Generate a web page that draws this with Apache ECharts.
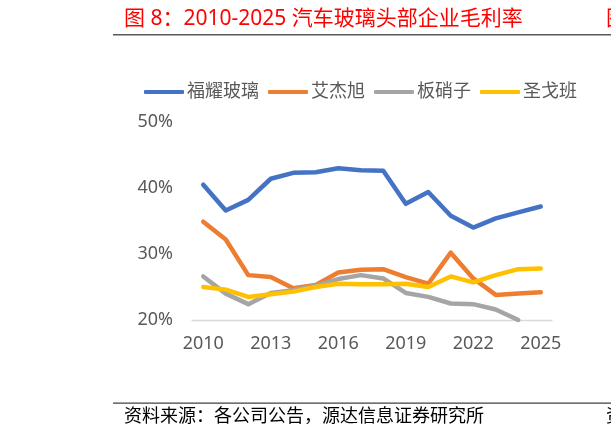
<!DOCTYPE html>
<html>
<head>
<meta charset="utf-8">
<script src="https://cdn.jsdelivr.net/npm/echarts@6/dist/echarts.min.js"></script>
<style>
html,body{margin:0;padding:0;background:#fff;}
#c{width:611px;height:438px;}
</style>
</head>
<body>
<div id="c"></div>
<script>
var years = ['2010','2011','2012','2013','2014','2015','2016','2017','2018','2019','2020','2021','2022','2023','2024','2025'];
var fuyao = [40.5,36.6,38.2,41.4,42.3,42.4,43.0,42.7,42.6,37.6,39.4,35.8,34.0,35.4,36.3,37.2];
var aijiexu = [34.9,32.2,26.8,26.5,24.8,25.3,27.2,27.6,27.7,26.5,25.5,30.2,26.3,23.8,24.0,24.2];
var banxiaozi = [26.6,24.0,22.4,24.1,24.5,25.2,26.2,26.8,26.3,24.1,23.5,22.5,22.4,21.6,20.0,null];
var shengeban = [25.0,24.6,23.5,23.9,24.3,25.0,25.5,25.4,25.4,25.5,25.0,26.6,25.7,26.8,27.7,27.8];
var seriesNames = ['福耀玻璃','艾杰旭','板硝子','圣戈班'];
var colors = ['#4472C4','#ED7D31','#A5A5A5','#FFC000'];
var titleText = '图 8：2010-2025 汽车玻璃头部企业毛利率';
var sourceText = '资料来源：各公司公告，源达信息证券研究所';

var font = '"Noto Sans","Noto Sans CJK SC",sans-serif';
var chart = echarts.init(document.getElementById('c'), null, {renderer:'canvas'});
var datas = [fuyao, aijiexu, banxiaozi, shengeban];
var series = seriesNames.map(function(n,i){
  return {
    name:n, type:'line', data:datas[i], symbol:'none', smooth:false,
    lineStyle:{color:colors[i], width:4.5, cap:'round', join:'round'},
    itemStyle:{color:colors[i]},
    connectNulls:false
  };
});
chart.setOption({
  animation:false,
  textStyle:{fontFamily:font},
  legend:{
    data:seriesNames.map(function(n,i){return {name:n, icon:'roundRect', itemStyle:{color:colors[i]}};}),
    left:139, top:78, itemWidth:40, itemHeight:4, itemGap:9,
    textStyle:{fontSize:18, color:'#595959', fontFamily:font, padding:[0,0,0,-2]}
  },
  grid:{left:192, top:122, width:360, height:198, containLabel:false},
  xAxis:{
    type:'category', data:years, boundaryGap:true,
    axisLine:{show:true, lineStyle:{color:'#D9D9D9', width:1.3}},
    axisTick:{show:false},
    axisLabel:{interval:2, color:'#595959', fontSize:18, margin:15, fontFamily:font},
    splitLine:{show:false}
  },
  yAxis:{
    type:'value', min:20, max:50, interval:10,
    axisLine:{show:false}, axisTick:{show:false}, splitLine:{show:false},
    axisLabel:{formatter:'{value}%', color:'#595959', fontSize:18, margin:19, fontFamily:font}
  },
  series:series,
  graphic:[
    {type:'text', left:124, top:9, style:{text:titleText, fill:'#FF0000', font:'21px '+font}},
    {type:'text', left:606, top:9, style:{text:'图', fill:'#FF0000', font:'21px '+font}},
    {type:'rect', shape:{x:113, y:34, width:498, height:1.4}, style:{fill:'#595959'}},
    {type:'rect', shape:{x:113, y:402.5, width:498, height:1.2}, style:{fill:'#404040'}},
    {type:'text', left:124, top:408, style:{text:sourceText, fill:'#000000', font:'18px '+font}},
    {type:'text', left:606, top:408, style:{text:'资', fill:'#000000', font:'18px '+font}}
  ]
});
</script>
</body>
</html>
